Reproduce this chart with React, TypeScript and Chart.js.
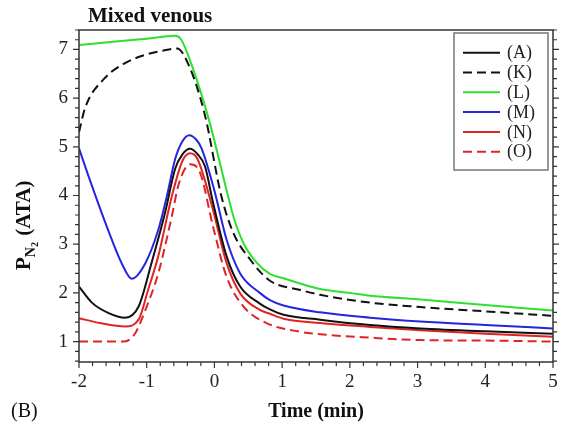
import React, { useEffect, useRef } from "react";
import { Chart, registerables } from "chart.js";

Chart.register(...registerables);

// ---- data ----
const labels = ["(A)", "(K)", "(L)", "(M)", "(N)", "(O)"];

const xA = [-2, -1.81, -1.57, -1.32, -1.12, -0.93, -0.73, -0.58, -0.47, -0.36, -0.25, -0.14, -0.02, 0.18, 0.38, 0.67, 0.82, 1.02, 1.56, 2.3, 3.04, 4.0, 5.0];
const yA = [2.13, 1.8, 1.59, 1.49, 1.72, 2.61, 3.64, 4.55, 4.85, 4.96, 4.85, 4.6, 3.85, 2.75, 2.13, 1.78, 1.66, 1.55, 1.45, 1.34, 1.27, 1.21, 1.16];

const xK = [-2, -1.91, -1.62, -1.32, -1.02, -0.75, -0.55, -0.38, -0.14, 0.1, 0.28, 0.53, 0.82, 1.27, 1.56, 2.3, 3.04, 4.0, 5.0];
const yK = [5.3, 5.8, 6.41, 6.72, 6.89, 6.98, 7.02, 6.68, 5.65, 4.0, 3.23, 2.68, 2.25, 2.06, 1.96, 1.8, 1.71, 1.62, 1.53];

const xL = [-2, -1.5, -1.0, -0.58, -0.5, -0.39, -0.09, 0.19, 0.28, 0.43, 0.63, 0.82, 1.02, 1.56, 2.0, 2.3, 3.0, 4.0, 5.0];
const yL = [7.09, 7.16, 7.22, 7.28, 7.22, 6.89, 5.6, 4.05, 3.57, 3.02, 2.61, 2.39, 2.3, 2.08, 2.0, 1.94, 1.87, 1.75, 1.64];

const xM = [-2, -1.84, -1.57, -1.37, -1.22, -1.02, -0.83, -0.7, -0.58, -0.47, -0.37, -0.27, -0.19, 0.0, 0.18, 0.38, 0.67, 0.82, 1.02, 1.56, 2.3, 3.04, 4.0, 5.0];
const yM = [4.97, 4.32, 3.29, 2.61, 2.29, 2.61, 3.29, 4.0, 4.75, 5.12, 5.24, 5.15, 4.97, 4.1, 3.09, 2.4, 2.0, 1.85, 1.74, 1.6, 1.49, 1.41, 1.34, 1.27];

const xN = [-2, -1.69, -1.32, -1.12, -0.98, -0.83, -0.63, -0.47, -0.36, -0.25, -0.02, 0.18, 0.38, 0.67, 0.82, 1.02, 1.56, 2.3, 3.04, 4.0, 5.0];
const yN = [1.48, 1.38, 1.31, 1.45, 2.06, 2.75, 3.98, 4.72, 4.87, 4.75, 3.7, 2.61, 1.99, 1.65, 1.57, 1.47, 1.38, 1.3, 1.23, 1.16, 1.1];

const xO = [-2, -1.33, -1.17, -1.02, -0.83, -0.63, -0.53, -0.36, -0.21, -0.02, 0.18, 0.43, 0.77, 1.27, 1.56, 2.3, 3.04, 4.0, 5.0];
const yO = [1.0, 1.0, 1.17, 1.65, 2.4, 3.57, 4.22, 4.64, 4.46, 3.36, 2.33, 1.72, 1.38, 1.2, 1.15, 1.08, 1.03, 1.02, 1.0];

const xTicks = [-2, -1, 0, 1, 2, 3, 4, 5];
const yTicks = [1, 2, 3, 4, 5, 6, 7];

const X_MIN = -2;
const X_MAX = 5;
const Y_MIN = 0.58;
const Y_MAX = 7.4;

const colBlack = "#111111";
const colGreen = "#2ee02e";
const colBlue = "#2525e0";
const colRed = "#e02424";

const serif = '"Liberation Serif", "Times New Roman", serif';

function pts(xs: number[], ys: number[]) {
  return xs.map((x, i) => ({ x, y: ys[i] }));
}

const overlay = {
  id: "overlay",
  afterDraw(chart: any) {
    const ctx = chart.ctx as CanvasRenderingContext2D;
    const ca = chart.chartArea;
    const xs = chart.scales.x;
    const ys = chart.scales.y;
    ctx.save();
    // frame
    ctx.strokeStyle = "#333";
    ctx.lineWidth = 1.5;
    ctx.strokeRect(ca.left, ca.top, ca.right - ca.left, ca.bottom - ca.top);
    ctx.lineWidth = 1.2;
    // x ticks
    for (let i = 0; i <= 35; i++) {
      const v = X_MIN + i * 0.2;
      const px = xs.getPixelForValue(v);
      const major = Math.abs(v - Math.round(v)) < 1e-6;
      ctx.beginPath();
      ctx.moveTo(px, ca.bottom);
      ctx.lineTo(px, ca.bottom + (major ? 6 : 4));
      ctx.stroke();
    }
    // y ticks left and right
    for (let i = 0; i <= 40; i++) {
      const v = 0.6 + i * 0.2;
      if (v > Y_MAX + 1e-6) break;
      const py = ys.getPixelForValue(v);
      const major = Math.abs(v - Math.round(v)) < 1e-6;
      const len = major ? 6 : 4;
      ctx.beginPath();
      ctx.moveTo(ca.left, py);
      ctx.lineTo(ca.left - len, py);
      ctx.moveTo(ca.right, py);
      ctx.lineTo(ca.right + len, py);
      ctx.stroke();
    }
    // tick labels
    ctx.fillStyle = "#222";
    ctx.font = "19px " + serif;
    ctx.textAlign = "center";
    ctx.textBaseline = "middle";
    xTicks.forEach((t) => {
      ctx.fillText(String(t), xs.getPixelForValue(t), ca.bottom + 20);
    });
    ctx.textAlign = "right";
    yTicks.forEach((t) => {
      ctx.fillText(String(t), ca.left - 11, ys.getPixelForValue(t));
    });
    // title
    ctx.fillStyle = "#111";
    ctx.textAlign = "left";
    ctx.textBaseline = "alphabetic";
    ctx.font = "bold 21px " + serif;
    ctx.fillText("Mixed venous", 88, 22);
    // x title
    ctx.font = "bold 20px " + serif;
    ctx.textAlign = "center";
    ctx.fillText("Time (min)", 316, 417);
    // panel label
    ctx.font = "20px " + serif;
    ctx.textAlign = "left";
    ctx.fillText("(B)", 11, 417);
    // y title (rotated)
    ctx.save();
    ctx.translate(30, 270);
    ctx.rotate(-Math.PI / 2);
    ctx.textAlign = "left";
    ctx.font = "bold 21px " + serif;
    let x = 0;
    ctx.fillText("P", x, 0);
    x += ctx.measureText("P").width;
    ctx.font = "bold 14px " + serif;
    ctx.fillText("N", x, 5);
    x += ctx.measureText("N").width;
    ctx.font = "bold 10px " + serif;
    ctx.fillText("2", x, 8);
    x += ctx.measureText("2").width + 1;
    ctx.font = "bold 21px " + serif;
    ctx.fillText(" (ATA)", x, 0);
    ctx.restore();
    // legend
    const lx0 = 454, ly0 = 33, lx1 = 548, ly1 = 170;
    ctx.fillStyle = "#fff";
    ctx.fillRect(lx0, ly0, lx1 - lx0, ly1 - ly0);
    ctx.strokeStyle = "#777";
    ctx.lineWidth = 1.5;
    ctx.strokeRect(lx0, ly0, lx1 - lx0, ly1 - ly0);
    chart.data.datasets.forEach((ds: any, i: number) => {
      const cy = 52.7 + i * 19.8;
      ctx.strokeStyle = ds.borderColor;
      ctx.lineWidth = 2;
      ctx.setLineDash(ds.borderDash || []);
      ctx.beginPath();
      ctx.moveTo(463, cy);
      ctx.lineTo(500, cy);
      ctx.stroke();
      ctx.setLineDash([]);
      ctx.fillStyle = "#222";
      ctx.font = "18px " + serif;
      ctx.textAlign = "left";
      ctx.textBaseline = "middle";
      ctx.fillText(ds.label, 507, cy + 1);
    });
    ctx.restore();
  },
};

export default function App() {
  const ref = useRef<HTMLCanvasElement>(null);
  useEffect(() => {
    if (!ref.current) return;
    const mk = (label: string, xs: number[], ysv: number[], color: string, dash?: number[]) => ({
      label,
      data: pts(xs, ysv),
      borderColor: color,
      backgroundColor: color,
      borderWidth: 2,
      borderDash: dash,
      pointRadius: 0,
      fill: false,
      cubicInterpolationMode: "monotone" as const,
    });
    const chart = new Chart(ref.current, {
      type: "line",
      data: {
        datasets: [
          mk(labels[0], xA, yA, colBlack),
          mk(labels[1], xK, yK, colBlack, [9, 5]),
          mk(labels[2], xL, yL, colGreen),
          mk(labels[3], xM, yM, colBlue),
          mk(labels[4], xN, yN, colRed),
          mk(labels[5], xO, yO, colRed, [9, 5]),
        ] as any,
      },
      options: {
        animation: false,
        responsive: false,
        maintainAspectRatio: false,
        layout: { padding: { left: 79, right: 9, top: 30, bottom: 65 } },
        plugins: { legend: { display: false }, tooltip: { enabled: false }, title: { display: false } },
        scales: {
          x: { type: "linear", min: X_MIN, max: X_MAX, display: false },
          y: { type: "linear", min: Y_MIN, max: Y_MAX, display: false },
        },
      },
      plugins: [overlay],
    });
    return () => chart.destroy();
  }, []);
  return (
    <div style={{ position: "fixed", left: 0, top: 0, width: 562, height: 427, background: "#fff" }}>
      <canvas ref={ref} width={562} height={427} style={{ display: "block" }} />
    </div>
  );
}
